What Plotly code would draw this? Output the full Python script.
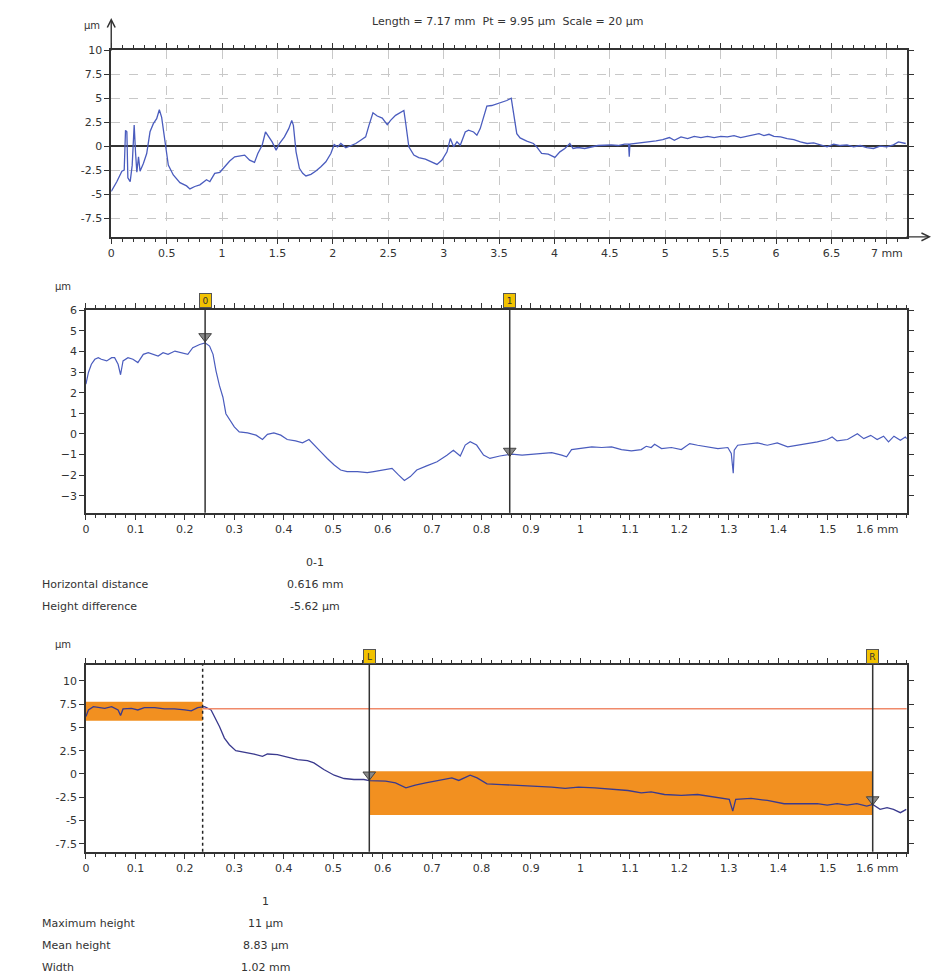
import plotly.graph_objects as go

W, H = 933, 977

# ---------------- data ----------------
top_x = [0.0, 0.05, 0.096, 0.117, 0.129, 0.141, 0.15, 0.171, 0.189, 0.207,
         0.219, 0.231, 0.246, 0.26, 0.29, 0.32, 0.35, 0.38, 0.41, 0.434,
         0.455, 0.485, 0.515, 0.56, 0.62, 0.68, 0.71, 0.754, 0.8, 0.86,
         0.89, 0.934, 0.98, 1.024, 1.069, 1.114, 1.16, 1.204, 1.249, 1.293,
         1.323, 1.362, 1.392, 1.413, 1.452, 1.488, 1.518, 1.563, 1.602, 1.629,
         1.644, 1.668, 1.698, 1.728, 1.757, 1.802, 1.847, 1.892, 1.937, 1.982,
         2.012, 2.042, 2.072, 2.117, 2.162, 2.207, 2.251, 2.296, 2.326, 2.362,
         2.401, 2.446, 2.491, 2.521, 2.566, 2.611, 2.641, 2.656, 2.686, 2.731,
         2.775, 2.835, 2.895, 2.94, 2.985, 3.03, 3.06, 3.09, 3.12, 3.15,
         3.195, 3.225, 3.27, 3.3, 3.33, 3.36, 3.39, 3.434, 3.48, 3.52,
         3.57, 3.61, 3.63, 3.66, 3.69, 3.75, 3.81, 3.84,
         3.884, 3.944, 4.004, 4.049, 4.094, 4.139, 4.168, 4.213, 4.273, 4.333,
         4.393, 4.453, 4.513, 4.573, 4.633, 4.669, 4.675, 4.681, 4.737, 4.797,
         4.857, 4.917, 4.977, 5.037, 5.082, 5.142, 5.202, 5.262, 5.322, 5.381,
         5.441, 5.501, 5.561, 5.621, 5.681, 5.741, 5.801, 5.846, 5.891, 5.936,
         5.981, 6.041, 6.1, 6.16, 6.22, 6.28, 6.34, 6.4, 6.46, 6.52,
         6.58, 6.64, 6.7, 6.759, 6.819, 6.879, 6.939, 6.999, 7.059, 7.104,
         7.149, 7.17]
top_y = [-4.72, -3.7, -2.6, -2.5, 1.65, 1.5, -3.3, -3.7, -2.0, 2.2,
         -0.6, -2.7, -1.1, -2.6, -1.8, -0.76, 1.5, 2.35, 2.86, 3.8,
         3.0, 0.45, -1.97, -3.0, -3.8, -4.14, -4.45, -4.2, -4.03, -3.5,
         -3.7, -2.83, -2.72, -2.14, -1.55, -1.1, -1.0, -0.93, -1.45, -1.69,
         -0.76, 0.1, 1.48, 1.14, 0.45, -0.41, 0.28, 0.97, 1.83, 2.69,
         2.17, -0.59, -2.31, -2.83, -3.1, -2.93, -2.59, -2.14, -1.62, -0.76,
         0.17, -0.07, 0.28, -0.17, 0.03, 0.28, 0.62, 0.97, 2.17, 3.48,
         3.14, 2.93, 2.24, 2.69, 3.21, 3.55, 3.72, 2.52, -0.07, -0.93,
         -1.2, -1.34, -1.69, -1.9, -1.45, -0.59, 0.79, -0.07, 0.45, 0.1,
         1.48, 1.66, 1.48, 1.14, 1.83, 3.03, 4.17, 4.24, 4.41, 4.59,
         4.76, 5.0, 3.55, 1.31, 0.86, 0.52, 0.28, -0.07,
         -0.76, -0.83, -1.17, -0.59, -0.24, 0.28, -0.24, -0.14, -0.24, -0.07,
         0.07, 0.1, 0.14, 0.07, 0.21, 0.21, -1.1, 0.21, 0.28, 0.34,
         0.41, 0.55, 0.69, 0.9, 0.62, 0.97, 0.79, 1.03, 0.9, 1.03,
         0.9, 1.03, 0.97, 1.1, 0.9, 1.03, 1.14, 1.31, 1.1, 1.24,
         1.03, 0.97, 0.79, 0.69, 0.45, 0.28, 0.34, 0.1, -0.07, 0.21,
         0.07, 0.14, -0.07, 0.07, -0.14, -0.24, 0.0, -0.07, 0.14, 0.45,
         0.34, 0.28]

mid_x = [0.0, 0.005, 0.011, 0.018, 0.025, 0.031, 0.042, 0.052, 0.058, 0.065,
         0.07, 0.075, 0.085, 0.095, 0.105, 0.116, 0.126, 0.135, 0.146, 0.156,
         0.166, 0.18, 0.193, 0.206, 0.216, 0.23, 0.241, 0.25, 0.257, 0.263,
         0.27, 0.277, 0.283, 0.29, 0.3, 0.31, 0.327, 0.344, 0.357, 0.367,
         0.38, 0.394, 0.407, 0.424, 0.438, 0.451, 0.461, 0.475, 0.488, 0.502,
         0.515, 0.528, 0.549, 0.569, 0.582, 0.599, 0.619, 0.632, 0.644, 0.656,
         0.669, 0.689, 0.71, 0.73, 0.743, 0.757, 0.767, 0.777, 0.79, 0.804,
         0.817, 0.837,
         0.861, 0.882, 0.902, 0.922, 0.942, 0.962, 0.972, 0.982, 1.002, 1.023,
         1.043, 1.063, 1.083, 1.103, 1.123, 1.133, 1.143, 1.15, 1.164, 1.184,
         1.204, 1.221, 1.237, 1.257, 1.278, 1.298, 1.305, 1.309, 1.311, 1.318,
         1.338, 1.358, 1.378, 1.398, 1.419, 1.439, 1.459, 1.479, 1.499, 1.509,
         1.519, 1.54, 1.56, 1.573, 1.587, 1.6, 1.613, 1.623, 1.634, 1.647,
         1.657, 1.66]
mid_y = [2.42, 2.98, 3.38, 3.62, 3.7, 3.62, 3.54, 3.7, 3.7, 3.38,
         2.87, 3.54, 3.7, 3.62, 3.46, 3.86, 3.94, 3.86, 3.78, 3.94,
         3.86, 4.02, 3.94, 3.86, 4.18, 4.34, 4.42, 4.26, 3.86, 3.06,
         2.34, 1.78, 0.98, 0.74, 0.34, 0.1, 0.05, -0.06, -0.27, -0.02,
         0.05, -0.06, -0.27, -0.34, -0.43, -0.27, -0.54, -0.87, -1.19, -1.51,
         -1.75, -1.83, -1.83, -1.88, -1.83, -1.75, -1.67, -1.99, -2.26, -2.07,
         -1.75, -1.55, -1.35, -1.03, -0.79, -1.07, -0.54, -0.38, -0.54, -1.03,
         -1.19, -1.07,
         -0.98, -1.03, -0.98, -0.95, -0.91, -1.03, -1.11, -0.76, -0.69, -0.63,
         -0.66, -0.63, -0.76, -0.82, -0.76, -0.6, -0.66, -0.5, -0.71, -0.66,
         -0.76, -0.47, -0.55, -0.63, -0.71, -0.66, -0.95, -1.91, -0.79, -0.55,
         -0.5, -0.44, -0.55, -0.44, -0.63, -0.55, -0.47, -0.39, -0.27, -0.15,
         -0.34, -0.27, 0.01, -0.23, -0.07, -0.27, -0.11, -0.39, -0.11, -0.31,
         -0.15, -0.23]

bot_x = [0.0, 0.005, 0.015, 0.025, 0.038, 0.052, 0.065, 0.07, 0.075, 0.092,
         0.105, 0.118, 0.139, 0.159, 0.179, 0.2, 0.213, 0.226, 0.24, 0.253,
         0.26, 0.27, 0.28, 0.29, 0.303, 0.32, 0.34, 0.357, 0.367, 0.387,
         0.408, 0.428, 0.448, 0.461, 0.481, 0.502, 0.522, 0.542, 0.562, 0.573,
         0.606, 0.626, 0.647, 0.666, 0.687, 0.707, 0.727, 0.74, 0.754, 0.777,
         0.791, 0.811, 0.841, 0.875, 0.908, 0.942, 0.969, 0.996, 1.029, 1.063,
         1.096, 1.123, 1.143, 1.17, 1.204, 1.237, 1.271, 1.301, 1.308, 1.314,
         1.345, 1.378, 1.412, 1.445, 1.479, 1.499, 1.519, 1.539, 1.559, 1.579,
         1.591, 1.606, 1.62, 1.633, 1.647, 1.659]
bot_y = [6.16, 6.87, 7.23, 7.12, 7.05, 7.23, 6.87, 6.27, 6.98, 7.05,
         6.87, 7.12, 7.12, 6.98, 6.98, 6.87, 6.77, 7.12, 7.23, 6.87,
         6.16, 5.09, 3.85, 3.14, 2.49, 2.35, 2.14, 1.89, 2.14, 2.07,
         1.78, 1.53, 1.43, 1.18, 0.47, -0.14, -0.49, -0.6, -0.6, -0.71,
         -0.78, -0.96, -1.5, -1.2, -0.96, -0.78, -0.6, -0.42, -0.7, -0.14,
         -0.42, -1.06, -1.14, -1.21, -1.31, -1.42, -1.56, -1.42, -1.5, -1.67,
         -1.78, -2.03, -1.92, -2.21, -2.31, -2.21, -2.49, -2.74, -3.99, -2.74,
         -2.63, -2.85, -3.2, -3.2, -3.2, -3.35, -3.2, -3.35, -3.2, -3.45,
         -3.27, -3.81, -3.63, -3.81, -4.16, -3.81]

# cursors / markers
mid_cursor_x = [0.241, 0.857]
mid_cursor_lbl = ["0", "1"]
mid_marker_y = [4.73, -0.83]

bot_cursor_x = [0.573, 1.591]
bot_cursor_lbl = ["L", "R"]
bot_marker_y = [-0.09, -2.75]
bot_split_x = 0.236
bot_ref_level = 7.0
band_x0 = [0.0, 0.573]
band_x1 = [0.236, 1.591]
band_y0 = [5.7, -4.41]
band_y1 = [7.76, 0.29]

# tick labels
top_xticks = [i * 0.5 for i in range(15)]
top_xtext = ["0", "0.5", "1", "1.5", "2", "2.5", "3", "3.5", "4", "4.5",
             "5", "5.5", "6", "6.5", "7 mm"]
top_yticks = [-7.5, -5, -2.5, 0, 2.5, 5, 7.5, 10]
top_ytext = ["-7.5", "-5", "-2.5", "0", "2.5", "5", "7.5", "10"]
mid_xticks = [round(i * 0.1, 1) for i in range(17)]
mid_xtext = ["0", "0.1", "0.2", "0.3", "0.4", "0.5", "0.6", "0.7", "0.8", "0.9",
             "1", "1.1", "1.2", "1.3", "1.4", "1.5", "1.6 mm"]
mid_yticks = [-3, -2, -1, 0, 1, 2, 3, 4, 5, 6]
bot_yticks = [-7.5, -5, -2.5, 0, 2.5, 5, 7.5, 10]

title_text = "Length = 7.17 mm  Pt = 9.95 µm  Scale = 20 µm"
mid_table_head = "0-1"
mid_table_rows = [("Horizontal distance", "0.616 mm"), ("Height difference", "-5.62 µm")]
bot_table_head = "1"
bot_table_rows = [("Maximum height", "11 µm"), ("Mean height", "8.83 µm"), ("Width", "1.02 mm")]

# ---------------- figure ----------------
FONT = "DejaVu Sans"
INK = "#333333"
BLUE = "#4a5cbe"
NAVY = "#3a3a8e"
ORANGE = "#f29020"
GOLD = "#f2c200"


def px(p):
    return p / W


def py(p):
    return 1 - p / H


fig = go.Figure()

fig.add_trace(go.Scatter(x=top_x, y=top_y, mode="lines", xaxis="x", yaxis="y",
                         line=dict(color=BLUE, width=1.3), showlegend=False))
fig.add_trace(go.Scatter(x=mid_x, y=mid_y, mode="lines", xaxis="x2", yaxis="y2",
                         line=dict(color=BLUE, width=1.2), showlegend=False))
fig.add_trace(go.Scatter(x=mid_cursor_x, y=mid_marker_y, mode="markers", xaxis="x2", yaxis="y2",
                         marker=dict(symbol="triangle-down", size=11, color="#8a8a8a",
                                     line=dict(color="#444", width=1)), showlegend=False))
fig.add_trace(go.Scatter(x=bot_x, y=bot_y, mode="lines", xaxis="x3", yaxis="y3",
                         line=dict(color=NAVY, width=1.3), showlegend=False))
fig.add_trace(go.Scatter(x=bot_cursor_x, y=bot_marker_y, mode="markers", xaxis="x3", yaxis="y3",
                         marker=dict(symbol="triangle-down", size=11, color="#8a8a8a",
                                     line=dict(color="#444", width=1)), showlegend=False))

common_axis = dict(showline=True, linecolor=INK, linewidth=1.5, mirror="ticks",
                   ticks="outside", ticklen=5, tickwidth=1, tickcolor=INK,
                   tickfont=dict(family=FONT, size=11, color=INK), zeroline=False,
                   fixedrange=True)


def xminor(d):
    return dict(dtick=d, ticklen=3, tickwidth=1, tickcolor=INK, ticks="outside", showgrid=False)


layout = dict(
    width=W, height=H, margin=dict(l=0, r=0, t=0, b=0),
    paper_bgcolor="white", plot_bgcolor="white",
    font=dict(family=FONT, size=11, color=INK),
    xaxis=dict(common_axis, domain=[px(107.7), px(906.7)], anchor="y", range=[0, 7.18],
               tickmode="array", tickvals=top_xticks, ticktext=top_xtext,
               showgrid=True, gridcolor="#c8c8c8", griddash="dash", gridwidth=1,
               minor=xminor(0.1)),
    yaxis=dict(common_axis, domain=[py(232.3), py(44.3)], anchor="x", range=[-9.45, 10.02],
               tickmode="array", tickvals=top_yticks, ticktext=top_ytext,
               showgrid=True, gridcolor="#c8c8c8", griddash="dash", gridwidth=1,
               zeroline=True, zerolinecolor=INK, zerolinewidth=1.5),
    xaxis2=dict(common_axis, domain=[px(82.3), px(906.7)], anchor="y2", range=[0, 1.66],
                tickmode="array", tickvals=mid_xticks, ticktext=mid_xtext,
                showgrid=False, minor=xminor(0.02)),
    yaxis2=dict(common_axis, domain=[py(510), py(305.7)], anchor="x2", range=[-3.83, 6.02],
                tickmode="array", tickvals=mid_yticks, showgrid=False),
    xaxis3=dict(common_axis, domain=[px(82.3), px(906.7)], anchor="y3", range=[0, 1.66],
                tickmode="array", tickvals=mid_xticks, ticktext=mid_xtext,
                showgrid=False, minor=xminor(0.02)),
    yaxis3=dict(common_axis, domain=[py(851), py(662.7)], anchor="x3", range=[-8.36, 11.74],
                tickmode="array", tickvals=bot_yticks, ticktext=top_ytext, showgrid=False),
)
fig.update_layout(**layout)

shapes = []
for cx in mid_cursor_x:
    shapes.append(dict(type="line", xref="x2", yref="y2 domain", x0=cx, x1=cx, y0=0, y1=1.02,
                       line=dict(color=INK, width=1.5)))
for x0, x1, y0, y1 in zip(band_x0, band_x1, band_y0, band_y1):
    shapes.append(dict(type="rect", xref="x3", yref="y3", x0=x0, x1=x1, y0=y0, y1=y1,
                       fillcolor=ORANGE, line=dict(width=0), layer="below"))
shapes.append(dict(type="line", xref="x3", yref="y3", x0=bot_split_x, x1=1.66,
                   y0=bot_ref_level, y1=bot_ref_level, line=dict(color="#f08a6a", width=1.5)))
shapes.append(dict(type="line", xref="x3", yref="y3 domain", x0=bot_split_x, x1=bot_split_x,
                   y0=0, y1=1, line=dict(color="#222", width=1.5, dash="dot")))
for cx in bot_cursor_x:
    shapes.append(dict(type="line", xref="x3", yref="y3 domain", x0=cx, x1=cx, y0=0, y1=1.02,
                       line=dict(color=INK, width=1.5)))
fig.update_layout(shapes=shapes)


def text_ann(x, y, text, xanchor="center", size=11):
    return dict(x=px(x), y=py(y), xref="paper", yref="paper", text=text, showarrow=False,
                xanchor=xanchor, yanchor="middle", font=dict(size=size))


ann = []
# axis arrows on the top panel
ann.append(dict(x=px(107.7), y=py(12), xref="paper", yref="paper", ax=0, ay=34,
                showarrow=True, arrowhead=5, arrowsize=1.1, arrowwidth=1.4, arrowcolor=INK, text=""))
ann.append(dict(x=px(931), y=py(232.3), xref="paper", yref="paper", ax=-26, ay=0,
                showarrow=True, arrowhead=5, arrowsize=1.1, arrowwidth=1.4, arrowcolor=INK, text=""))
ann.append(text_ann(506, 16, title_text))
for xx, yy in [(88, 20), (59, 282), (59, 642)]:
    ann.append(text_ann(xx, yy, "µm", size=10))
for cx, lbl in zip(mid_cursor_x, mid_cursor_lbl):
    ann.append(dict(x=cx, y=py(296), xref="x2", yref="paper", text=lbl, showarrow=False,
                    xanchor="center", yanchor="middle",
                    bgcolor=GOLD, bordercolor="#555", borderwidth=1, borderpad=1,
                    width=9, height=11, font=dict(size=9, color="#333")))
for cx, lbl in zip(bot_cursor_x, bot_cursor_lbl):
    ann.append(dict(x=cx, y=py(655), xref="x3", yref="paper", text=lbl, showarrow=False,
                    xanchor="center", yanchor="middle",
                    bgcolor=GOLD, bordercolor="#555", borderwidth=1, borderpad=1,
                    width=9, height=11, font=dict(size=9, color="#333")))

# tables
ann.append(text_ann(312, 560, mid_table_head))
for i, (k, v) in enumerate(mid_table_rows):
    yy = 582 + 22 * i
    ann.append(text_ann(36, yy, k, xanchor="left"))
    ann.append(text_ann(312, yy, v))
ann.append(text_ann(263, 901, bot_table_head))
for i, (k, v) in enumerate(bot_table_rows):
    yy = 923 + 22 * i
    ann.append(text_ann(36, yy, k, xanchor="left"))
    ann.append(text_ann(263, yy, v))
fig.update_layout(annotations=ann)

fig.write_html("out.html")
